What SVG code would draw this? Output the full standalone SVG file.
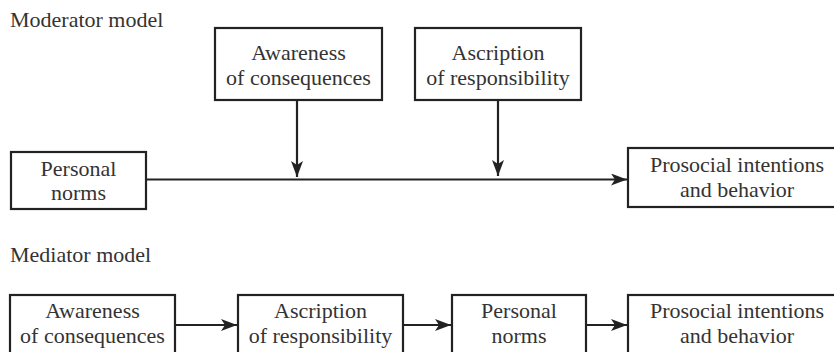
<svg xmlns="http://www.w3.org/2000/svg" width="834" height="352" viewBox="0 0 834 352">
<defs>
<style>
text{font-family:"Liberation Serif","Times New Roman","DejaVu Serif",serif;font-size:22px;fill:#333}
.c{text-anchor:middle}
rect{fill:#fff;stroke:#222;stroke-width:2.2}
.ln{stroke:#222;stroke-width:2.2;fill:none}
</style>
<marker id="ah2" viewBox="0 0 16 12" refX="16" refY="6" markerWidth="16" markerHeight="12" markerUnits="userSpaceOnUse" orient="auto">
<path d="M0,0 L16,6 L0,12 L4,6 Z" fill="#222"/>
</marker>
</defs>
<text x="10" y="27" font-family="Liberation Serif, serif">Moderator model</text>
<text x="10" y="262" font-family="Liberation Serif, serif">Mediator model</text>
<g id="connectors">
<line class="ln" x1="146" y1="179.5" x2="627" y2="179.5" marker-end="url(#ah2)"/>
<line class="ln" x1="297" y1="100" x2="297" y2="177" marker-end="url(#ah2)"/>
<line class="ln" x1="498" y1="100" x2="498" y2="176" marker-end="url(#ah2)"/>
<line class="ln" x1="175" y1="325" x2="237" y2="325" marker-end="url(#ah2)"/>
<line class="ln" x1="403" y1="325" x2="451" y2="325" marker-end="url(#ah2)"/>
<line class="ln" x1="586" y1="325" x2="627" y2="325" marker-end="url(#ah2)"/>
</g>
<g id="mod-awareness">
<rect x="215" y="28" width="167" height="72"/>
<text class="c" x="298.5" y="60">Awareness</text>
<text class="c" x="298.5" y="85">of consequences</text>
</g>
<g id="mod-ascription">
<rect x="415" y="28" width="166" height="72"/>
<text class="c" x="498" y="60">Ascription</text>
<text class="c" x="498" y="85">of responsibility</text>
</g>
<g id="mod-personal">
<rect x="11" y="152" width="135" height="57"/>
<text class="c" x="78.5" y="176">Personal</text>
<text class="c" x="78.5" y="200">norms</text>
</g>
<g id="mod-prosocial">
<rect x="628" y="148" width="215" height="59"/>
<text class="c" x="737" y="172">Prosocial intentions</text>
<text class="c" x="737" y="197">and behavior</text>
</g>
<g id="med-awareness">
<rect x="10" y="295" width="165" height="70"/>
<text class="c" x="92.5" y="318">Awareness</text>
<text class="c" x="92.5" y="343">of consequences</text>
</g>
<g id="med-ascription">
<rect x="238" y="295" width="165" height="70"/>
<text class="c" x="320.5" y="318">Ascription</text>
<text class="c" x="320.5" y="343">of responsibility</text>
</g>
<g id="med-personal">
<rect x="452" y="295" width="134" height="70"/>
<text class="c" x="519" y="318">Personal</text>
<text class="c" x="519" y="343">norms</text>
</g>
<g id="med-prosocial">
<rect x="628" y="295" width="215" height="70"/>
<text class="c" x="737" y="318">Prosocial intentions</text>
<text class="c" x="737" y="343">and behavior</text>
</g>
</svg>
